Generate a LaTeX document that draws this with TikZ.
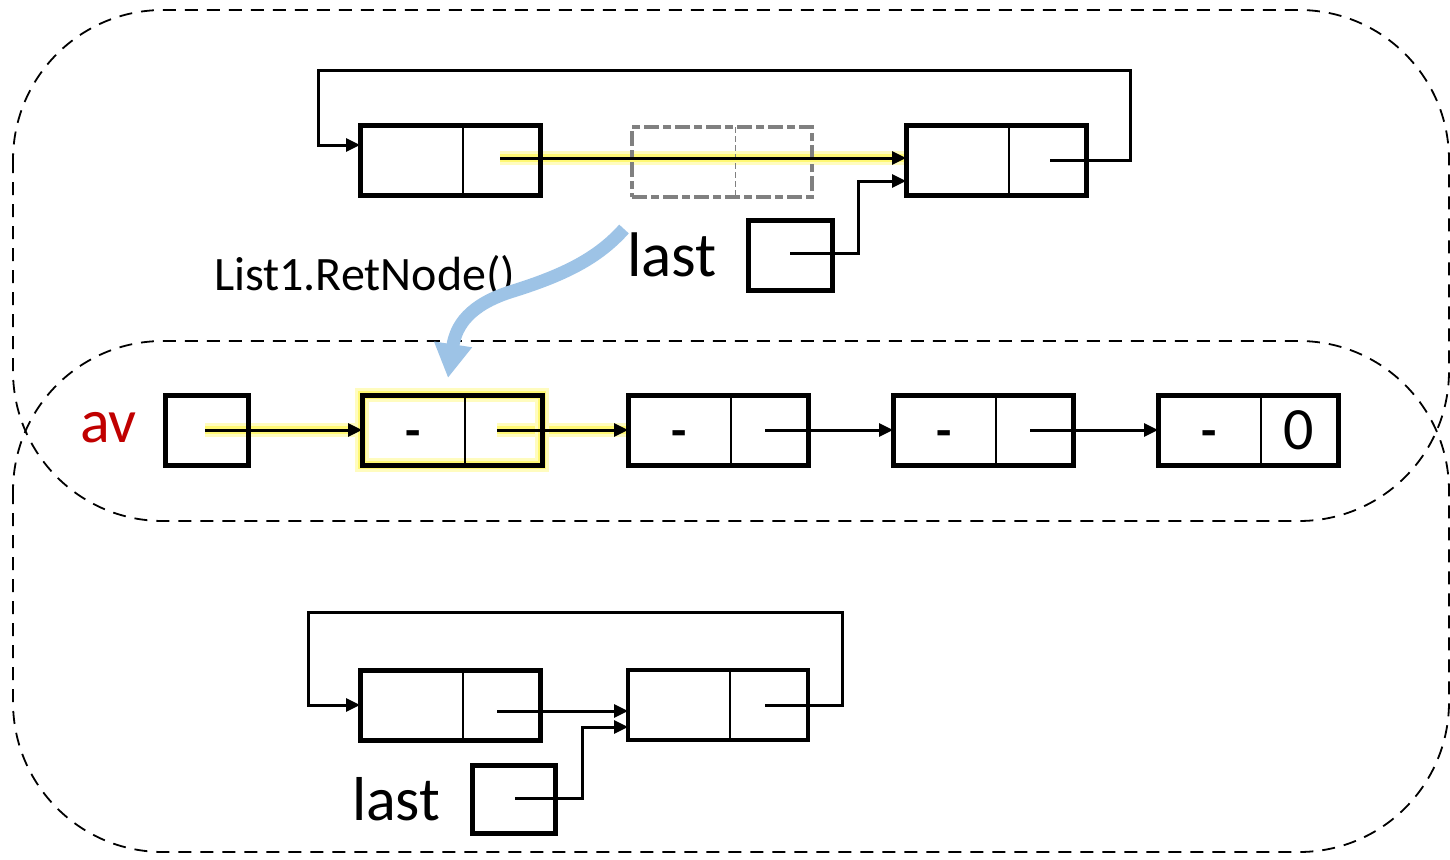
\documentclass[tikz,border=0pt]{standalone}
\usepackage{fontspec}
\setmainfont{Carlito}
\usetikzlibrary{arrows.meta,calc,backgrounds}
\definecolor{hlblue}{RGB}{157,195,230}
\definecolor{avred}{RGB}{192,0,0}
\definecolor{ghost}{RGB}{128,128,128}
\tikzset{
  cellbox/.style={draw, line width=5pt, minimum width=180pt, minimum height=70pt, inner sep=0pt, outer sep=0pt},
  ptrbox/.style={cellbox, minimum width=84pt},
  ghostbox/.style={draw=ghost, line width=4pt, dash pattern=on 15pt off 4pt on 8pt off 4pt, minimum width=180pt, minimum height=70pt, inner sep=0pt, outer sep=0pt},
  divline/.style={line width=2pt},
  ghostdiv/.style={draw=ghost, line width=1pt, dash pattern=on 6pt off 3pt},
  ptr/.style={line width=3pt, -{Triangle[length=14pt,width=13pt]}},
  glowwide/.style={line width=14pt, color=yellow!25},
  glowmid/.style={line width=8pt, color=yellow!55},
  region/.style={dash pattern=on 13pt off 9pt, line width=1.8pt, rounded corners=150pt},
  bigarrow/.style={line width=13pt, color=hlblue, -{Triangle[length=34pt,width=36pt]}},
  txt/.style={inner sep=0pt, outer sep=0pt},
  dashtxt/.style={txt, anchor=base, font=\fontsize{50}{50}\selectfont\bfseries},
}
\newcommand\mkcell[2]{%
  \node[cellbox] (#1) at (#2) {};
  \draw[divline] ($(#1.north west)+(103,0)$) -- ($(#1.south west)+(103,0)$);
}
\begin{document}
\begin{tikzpicture}[x=1pt,y=-1pt]
\useasboundingbox (0,0) rectangle (1450,859);
% regions
\draw[region] (13,10) rectangle (1449,521);
\draw[region] (13,341) rectangle (1449,852);

% ---------- top list ----------
\mkcell{A1}{450,160}
\mkcell{A2}{996,160}
\node[ghostbox] (G) at (722,162) {};
\draw[ghostdiv] ($(G.north west)+(103,0)$) -- ($(G.south west)+(103,0)$);
\node[ptrbox] (LT) at (790,255) {};
\node[txt, anchor=base west, font=\fontsize{63}{63}\selectfont] (lastT) at (627,276) {last};
\node[txt, anchor=base west, font=\fontsize{48}{48}\selectfont] (call) at (214,290) {List1.RetNode()};

\coordinate (A1p) at (500,158);
\coordinate (A2p) at (1050,160);
\coordinate (LTp) at (790,253);
\begin{scope}[on background layer]
  \draw[glowwide] (A1p) -- (A1p -| A2.west);
  \draw[glowmid] (A1p) -- (A1p -| A2.west);
\end{scope}
\draw[ptr] (A1p) -- (A1p -| A2.west);
\draw[ptr] (A2p) -- (1130,160) -- (1130,70) -- (318,70) -- (318,145) -- (A1.west |- 0,145);
\draw[ptr] (LTp) -- (858,253) -- (858,181) -- (A2.west |- 0,181);

% blue arrow
\coordinate (bs) at (624,229);
\coordinate (be) at (448,378);
\draw[bigarrow] (bs) .. controls (598,258) and (565,275) .. (510,292) .. controls (470,305) and (456,325) .. (be);

% ---------- middle list ----------
\node[txt, anchor=base west, text=avred, font=\fontsize{62}{62}\selectfont] (av) at (80,442) {av};
\node[ptrbox, minimum width=83pt] (AV) at (206.5,430) {};
\mkcell{B1}{452,430}
\mkcell{B2}{718,430}
\mkcell{B3}{983,430}
\mkcell{B4}{1248,430}
\foreach \n in {B1,B2,B3,B4}{
  \node[dashtxt] at ($(\n.west)+(51,17)$) {-};
}
\node[txt, font=\fontsize{60}{60}\selectfont] (zero) at ($(B4.west)+(141,0)$) {0};
\coordinate (AVp) at (205,430);
\coordinate (B1p) at (497,430);
\coordinate (B2p) at (765,430);
\coordinate (B3p) at (1030,430);
\begin{scope}[on background layer]
  \draw[glowwide] (AVp) -- (B1.west);
  \draw[glowmid] (AVp) -- (B1.west);
  \draw[glowwide] (B1p) -- (B2.west);
  \draw[glowmid] (B1p) -- (B2.west);
  \draw[glowwide] (B1.north west) rectangle (B1.south east);
  \draw[glowmid] (B1.north west) rectangle (B1.south east);
\end{scope}
\draw[ptr] (AVp) -- (B1.west);
\draw[ptr] (B1p) -- (B2.west);
\draw[ptr] (B2p) -- (B3.west);
\draw[ptr] (B3p) -- (B4.west);

% ---------- bottom list ----------
\mkcell{C1}{450,705}
\node[cellbox, line width=3.5pt] (C2) at (718,705) {};
\draw[divline] ($(C2.north west)+(102,0)$) -- ($(C2.south west)+(102,0)$);
\node[ptrbox, minimum width=83pt, minimum height=68pt] (LB) at (513.5,799) {};
\node[txt, anchor=base west, font=\fontsize{62}{62}\selectfont] (lastB) at (352,820) {last};
\coordinate (C1p) at (497,711);
\coordinate (C2p) at (765,705);
\coordinate (LBp) at (515,798);
\draw[ptr] (C1p) -- (C1p -| C2.west);
\draw[ptr] (C2p) -- (842,705) -- (842,612) -- (308,612) -- (308,705) -- (C1.west);
\draw[ptr] (LBp) -- (582,798) -- (582,727) -- (C2.west |- 0,727);
\end{tikzpicture}
\end{document}
